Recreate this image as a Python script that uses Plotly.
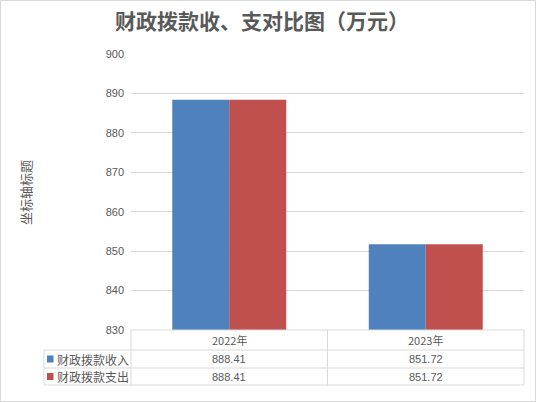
import plotly.graph_objects as go

categories = ["2022年", "2023年"]
series_names = ["财政拨款收入", "财政拨款支出"]
income = [888.41, 851.72]
expense = [888.41, 851.72]
colors = ["#4F81BD", "#C0504D"]

W, H = 536, 402
L, R, T, B = 131, 12, 54, 72
PW = W - L - R
PH = H - T - B

def px(x):
    return (x - L) / PW

def py(y):
    return (H - B - y) / PH

fig = go.Figure()
for name, vals, col in zip(series_names, [income, expense], colors):
    fig.add_trace(go.Bar(x=categories, y=vals, name=name, marker=dict(color=col, line=dict(width=0)),
                         showlegend=False))

grid = "#d9d9d9"
txt = "#595959"
shapes = []
# outer border
shapes.append(dict(type="rect", xref="paper", yref="paper", x0=px(0.5), x1=px(W - 0.5), y0=py(0.5), y1=py(H - 0.5),
                   line=dict(color="#d9d9d9", width=1)))
# table lines
for y in [350, 368, 385]:
    shapes.append(dict(type="line", xref="paper", yref="paper", x0=px(44), x1=px(524), y0=py(y), y1=py(y),
                       line=dict(color=grid, width=1)))
shapes.append(dict(type="line", xref="paper", yref="paper", x0=px(131), x1=px(524), y0=py(330), y1=py(330),
                   line=dict(color=grid, width=1)))
shapes.append(dict(type="line", xref="paper", yref="paper", x0=px(44), x1=px(44), y0=py(350), y1=py(385),
                   line=dict(color=grid, width=1)))
for x in [131, 327.5, 524]:
    shapes.append(dict(type="line", xref="paper", yref="paper", x0=px(x), x1=px(x), y0=py(330), y1=py(385),
                       line=dict(color=grid, width=1)))

annotations = []
font_num = dict(family="Liberation Sans, Arial", size=11, color=txt)
font_cjk = dict(family="Noto Sans CJK SC", size=11, color=txt)
for c in categories:
    annotations.append(dict(x=c, xref="x", y=py(340), yref="paper", text=c, showarrow=False,
                            font=font_cjk, xanchor="center", yanchor="middle"))
for row_y, name, vals, col in zip([359, 376.5], series_names, [income, expense], colors):
    for c, v in zip(categories, vals):
        annotations.append(dict(x=c, xref="x", y=py(row_y), yref="paper", text=f"{v:.2f}", showarrow=False,
                                font=font_num, xanchor="center", yanchor="middle"))
    shapes.append(dict(type="rect", xref="paper", yref="paper", x0=px(47), x1=px(53.5), y0=py(row_y - 3.5),
                       y1=py(row_y + 3.5), fillcolor=col, line=dict(width=0)))
    annotations.append(dict(x=px(54.5), xref="paper", y=py(row_y), yref="paper", text=name, showarrow=False,
                            font=dict(family="Noto Sans CJK SC", size=12, color=txt), xanchor="left", yanchor="middle"))

annotations.append(dict(x=px(25), xref="paper", y=py(192), yref="paper", text="坐标轴标题", textangle=-90,
                        showarrow=False, font=dict(family="Noto Sans CJK SC", size=13, color=txt),
                        xanchor="center", yanchor="middle"))
annotations.append(dict(x=px(262), xref="paper", y=py(20), yref="paper", text="<b>财政拨款收、支对比图（万元）</b>",
                        showarrow=False, font=dict(family="Noto Sans CJK SC", size=21, color=txt),
                        xanchor="center", yanchor="middle"))

fig.update_layout(
    width=W, height=H,
    margin=dict(l=L, r=R, t=T, b=B, autoexpand=False),
    paper_bgcolor="white", plot_bgcolor="white",
    barmode="group", bargap=0.42, bargroupgap=0,
    hovermode=False,
    xaxis=dict(showticklabels=False, showgrid=False, zeroline=False, showline=False, ticks=""),
    yaxis=dict(range=[830, 900], dtick=10, tick0=830, showgrid=True, gridcolor=grid, gridwidth=1,
               zeroline=False, showline=False, ticks="", ticklabelstandoff=6,
               tickfont=dict(family="Liberation Sans, Arial", size=11, color=txt)),
    shapes=shapes, annotations=annotations,
)
fig.write_html("out.html", config={"displayModeBar": False},
               post_script="document.body.style.margin='0';document.body.style.overflow='hidden';")
